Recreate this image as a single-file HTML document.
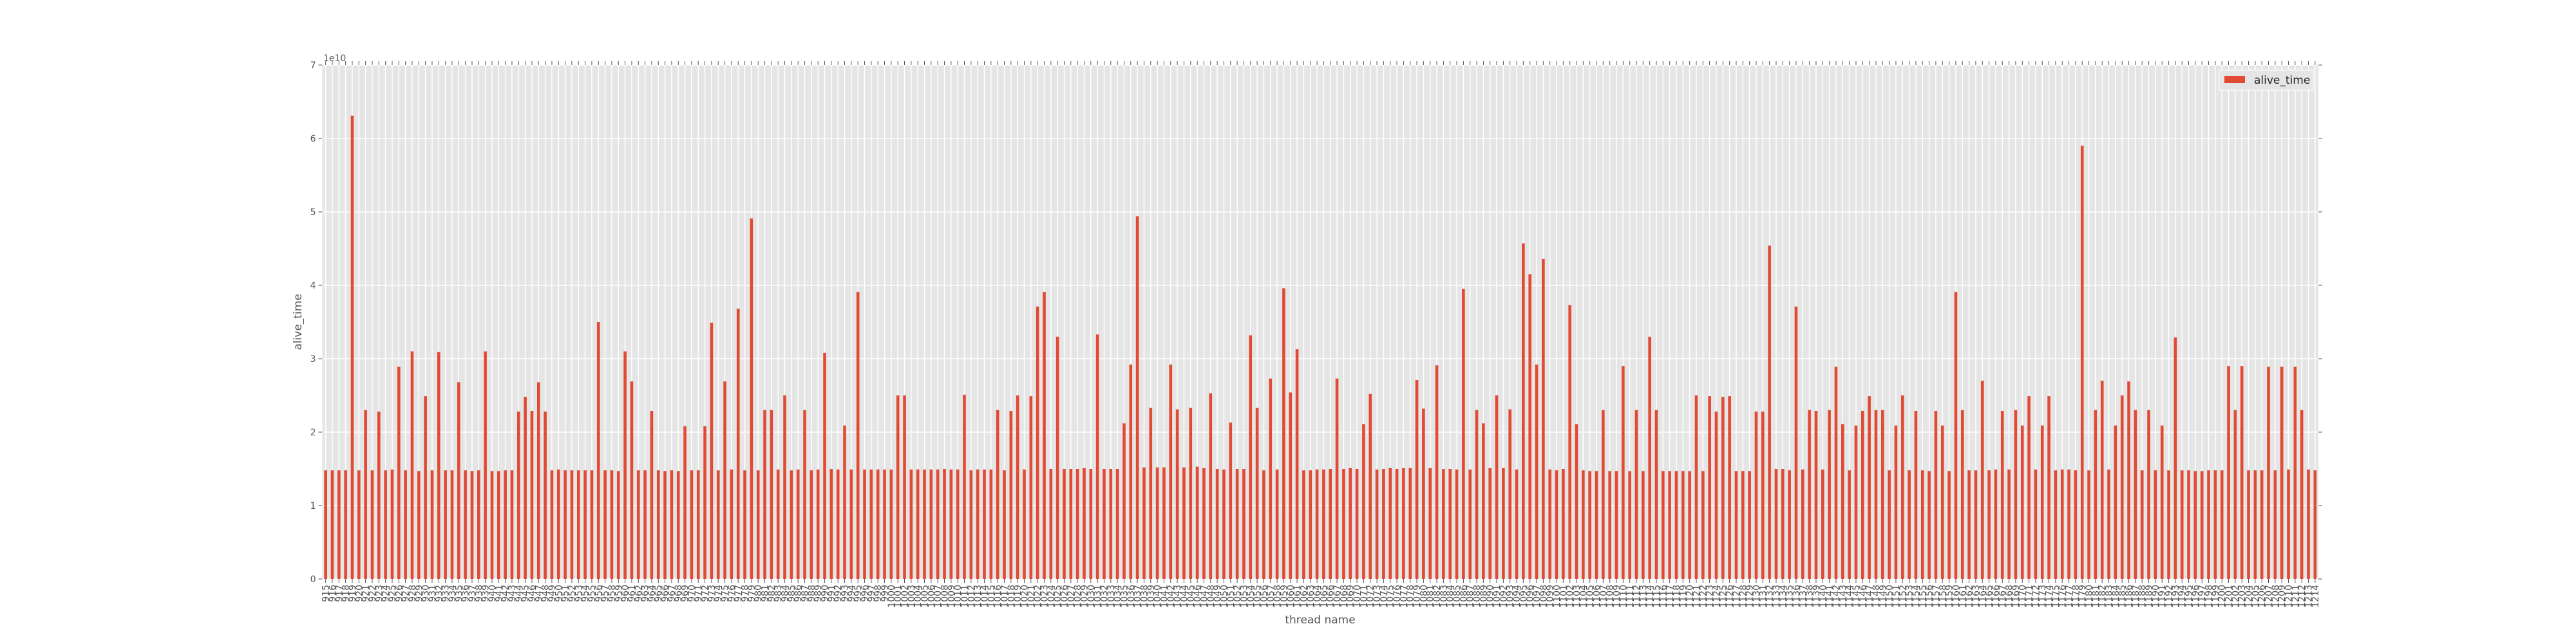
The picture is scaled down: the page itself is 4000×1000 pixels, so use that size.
<!DOCTYPE html>
<html>
<head>
<meta charset="utf-8">
<style>
  html,body{margin:0;padding:0;background:#fff;}
  svg{display:block;}
  text{font-family:"DejaVu Sans","Liberation Sans",sans-serif;}
</style>
</head>
<body>
<svg id="chart" width="4000" height="1000" viewBox="0 0 4000 1000" xmlns="http://www.w3.org/2000/svg">
  <rect x="500.5" y="101" width="3099.5" height="798" fill="#E5E5E5"/>
  <g id="grid"></g>
  <g id="bars"></g>
  <g id="ticks"></g>
  <g id="xlabels"></g>
  <g id="ylabels"></g>
  <text x="502" y="95" font-size="14" fill="#555">1e10</text>
  <text x="2050" y="968" font-size="17" fill="#555" text-anchor="middle">thread name</text>
  <text x="0" y="0" font-size="17" fill="#555" text-anchor="middle" transform="translate(468,500) rotate(-90)">alive_time</text>
  <g>
    <rect x="3446" y="109" width="146" height="31" fill="#E5E5E5" stroke="#fff" stroke-width="1"/>
    <rect x="3454" y="118" width="32" height="11" fill="#E24A33"/>
    <text x="3500" y="130" font-size="17" fill="#222">alive_time</text>
  </g>
</svg>
<script>
const threadNames = [915,916,917,918,919,920,921,922,923,924,925,926,927,928,929,930,931,932,933,934,935,936,937,938,939,940,941,942,943,944,945,946,947,948,949,950,951,952,953,954,955,956,957,958,959,960,961,962,963,964,965,966,967,968,969,970,971,972,973,974,975,976,977,978,979,980,981,982,983,984,985,986,987,988,989,990,991,992,993,994,995,996,997,998,999,1000,1001,1002,1003,1004,1005,1006,1007,1008,1009,1010,1011,1012,1013,1014,1015,1016,1017,1018,1019,1020,1021,1022,1023,1024,1025,1026,1027,1028,1029,1030,1031,1032,1033,1034,1035,1036,1037,1038,1039,1040,1041,1042,1043,1044,1045,1046,1047,1048,1049,1050,1051,1052,1053,1054,1055,1056,1057,1058,1059,1060,1061,1062,1063,1064,1065,1066,1067,1068,1069,1070,1071,1072,1073,1074,1075,1076,1077,1078,1079,1080,1081,1082,1083,1084,1085,1086,1087,1088,1089,1090,1091,1092,1093,1094,1095,1096,1097,1098,1099,1100,1101,1102,1103,1104,1105,1106,1107,1108,1109,1110,1111,1112,1113,1114,1115,1116,1117,1118,1119,1120,1121,1122,1123,1124,1125,1126,1127,1128,1129,1130,1131,1132,1133,1134,1135,1136,1137,1138,1139,1140,1141,1142,1143,1144,1145,1146,1147,1148,1149,1150,1151,1152,1153,1154,1155,1156,1157,1158,1159,1160,1161,1162,1163,1164,1165,1166,1167,1168,1169,1170,1171,1172,1173,1174,1175,1176,1177,1178,1179,1180,1181,1182,1183,1184,1185,1186,1187,1188,1189,1190,1191,1192,1193,1194,1195,1196,1197,1198,1199,1200,1201,1202,1203,1204,1205,1206,1207,1208,1209,1210,1211,1212,1213,1214];

// alive_time in units of 1e10
const aliveTime = [
1.48,1.48,1.48,1.48,6.31,1.48,2.30,1.48,2.28,1.48,
1.49,2.89,1.48,3.10,1.47,2.49,1.48,3.09,1.48,1.48,
2.68,1.48,1.47,1.48,3.10,1.47,1.47,1.48,1.48,2.28,
2.48,2.29,2.68,2.28,1.48,1.49,1.48,1.48,1.48,1.48,
1.48,3.50,1.48,1.48,1.47,3.10,2.69,1.48,1.48,2.29,
1.48,1.47,1.48,1.47,2.08,1.48,1.48,2.08,3.49,1.48,
2.69,1.49,3.68,1.48,4.91,1.48,2.30,2.30,1.49,2.50,
1.48,1.49,2.30,1.48,1.49,3.08,1.50,1.49,2.09,1.49,
3.91,1.49,1.49,1.49,1.49,1.49,2.50,2.50,1.49,1.49,
1.49,1.49,1.49,1.50,1.49,1.49,2.51,1.48,1.49,1.49,
1.49,2.30,1.48,2.29,2.50,1.49,2.49,3.71,3.91,1.50,
3.30,1.50,1.50,1.50,1.51,1.50,3.33,1.50,1.50,1.50,
2.12,2.92,4.94,1.52,2.33,1.52,1.52,2.92,2.31,1.52,
2.33,1.53,1.51,2.53,1.50,1.49,2.13,1.50,1.50,3.32,
2.33,1.48,2.73,1.49,3.96,2.54,3.13,1.48,1.48,1.49,
1.49,1.50,2.73,1.50,1.51,1.50,2.11,2.52,1.49,1.50,
1.51,1.50,1.51,1.51,2.71,2.32,1.51,2.91,1.50,1.50,
1.49,3.95,1.49,2.30,2.12,1.51,2.50,1.51,2.31,1.49,
4.57,4.15,2.92,4.36,1.49,1.48,1.50,3.73,2.11,1.48,
1.47,1.47,2.30,1.47,1.47,2.90,1.47,2.30,1.47,3.30,
2.30,1.47,1.47,1.47,1.47,1.47,2.50,1.47,2.49,2.28,
2.48,2.49,1.47,1.47,1.47,2.28,2.28,4.54,1.50,1.50,
1.48,3.71,1.49,2.30,2.29,1.49,2.30,2.89,2.11,1.48,
2.09,2.29,2.49,2.30,2.30,1.48,2.09,2.50,1.48,2.29,
1.48,1.47,2.29,2.09,1.47,3.91,2.30,1.48,1.48,2.70,
1.48,1.49,2.29,1.49,2.30,2.09,2.49,1.49,2.09,2.49,
1.48,1.49,1.49,1.48,5.90,1.48,2.30,2.70,1.49,2.09,
2.50,2.69,2.30,1.48,2.30,1.48,2.09,1.48,3.29,1.48,
1.48,1.47,1.47,1.48,1.48,1.48,2.90,2.30,2.90,1.48,
1.48,1.48,2.89,1.48,2.89,1.49,2.89,2.30,1.49,1.48
];

const yTicks = [0,1,2,3,4,5,6,7];

const NS = "http://www.w3.org/2000/svg";
const plotLeft = 500.5, plotRight = 3600, plotTop = 101, plotBottom = 899;
const yMax = 7;
const n = threadNames.length;
const step = (plotRight - plotLeft) / n;
function xScale(i){ return plotLeft + step * (i + 0.5); }
function yScale(v){ return plotBottom - (v / yMax) * (plotBottom - plotTop); }

function mk(tag, attrs, parent){
  const el = document.createElementNS(NS, tag);
  for (const k in attrs) el.setAttribute(k, attrs[k]);
  parent.appendChild(el);
  return el;
}

const grid = document.getElementById('grid');
const bars = document.getElementById('bars');
const ticks = document.getElementById('ticks');
const xlabels = document.getElementById('xlabels');
const ylabels = document.getElementById('ylabels');

yTicks.forEach(t => {
  const y = yScale(t);
  const g = mk('line', {x1: plotLeft, x2: plotRight, y1: y, y2: y, stroke: '#fff', 'stroke-width': 1.5}, grid);
  
  
  const tk = mk('line', {x1: plotLeft - 6, x2: plotLeft, y1: y, y2: y, stroke: '#555', 'stroke-width': 1}, ticks);
  
  
  const tk2 = mk('line', {x1: plotRight, x2: plotRight + 6, y1: y, y2: y, stroke: '#555', 'stroke-width': 1}, ticks);
  
  
  const lb = mk('text', {x: plotLeft - 10, y: y + 5, 'font-size': 14, fill: '#555', 'text-anchor': 'end'}, ylabels);
  
  
  lb.textContent = String(t);
});

threadNames.forEach((name, i) => {
  const cx = xScale(i);
  const g = mk('line', {x1: cx, x2: cx, y1: plotTop, y2: plotBottom, stroke: '#fff', 'stroke-width': 1.5}, grid);
  
  

  const v = aliveTime[i];
  const yTop = yScale(v);
  const bw = 4.6;
  const b = mk('rect', {x: cx - bw / 2, y: yTop, width: bw, height: plotBottom - yTop, fill: '#E24A33'}, bars);
  
  

  const t1 = mk('line', {x1: cx, x2: cx, y1: plotBottom, y2: plotBottom + 6, stroke: '#555', 'stroke-width': 1}, ticks);
  
  
  const t2 = mk('line', {x1: cx, x2: cx, y1: plotTop - 6, y2: plotTop, stroke: '#555', 'stroke-width': 1}, ticks);
  
  

  const lb = mk('text', {x: 0, y: 0, 'font-size': 14, fill: '#555', 'text-anchor': 'end', transform: 'translate(' + (cx + 5) + ',908) rotate(-90)'}, xlabels);
  
  
  lb.textContent = String(name);
});
</script>
</body>
</html>
